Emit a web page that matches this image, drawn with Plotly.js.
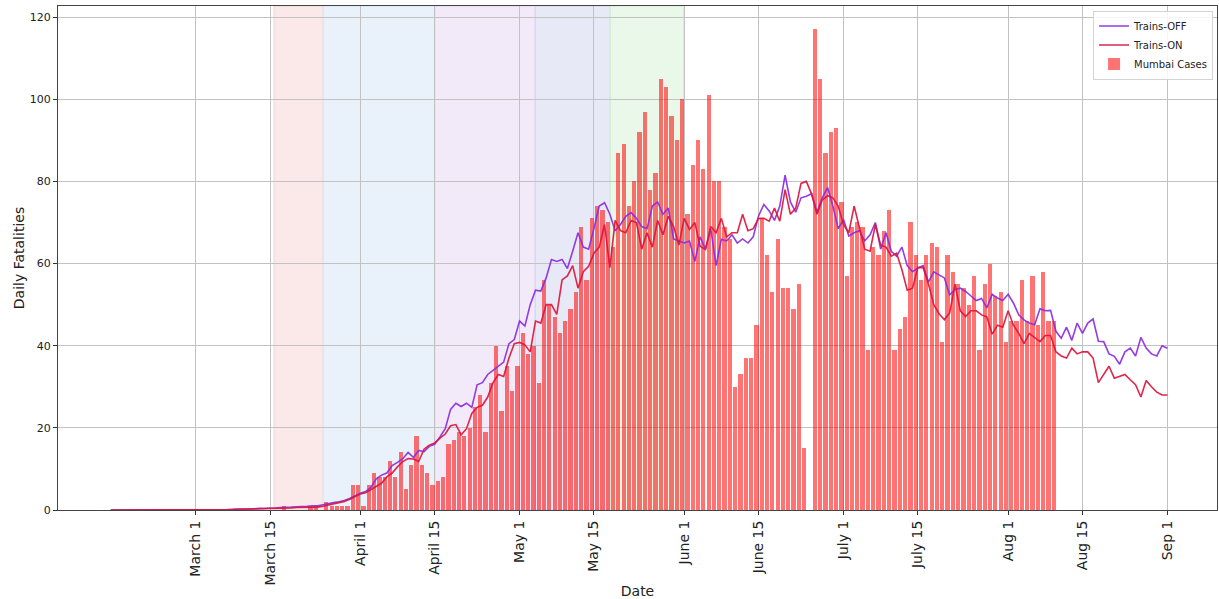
<!DOCTYPE html>
<html>
<head>
<meta charset="utf-8">
<script src="https://cdn.plot.ly/plotly-3.0.1.min.js"></script>
<style>
  html, body { margin: 0; padding: 0; background: #ffffff; }
  #chart { width: 1219px; height: 599px; }
</style>
</head>
<body>
<div id="chart"></div>
<script>
// ---- DATA (days counted from March 1) ----
const FIRST_LINE_DAY = -16;   // Feb 14
const trainsOff = [
  0,0,0,0,0,0,0,0,0,0,
  0,0,0,0,0,0,0,0,0,0.1,
  0.1,0.1,0.1,0.2,0.2,0.2,0.3,0.3,0.4,0.4,
  0.5,0.5,0.6,0.6,0.7,0.8,0.8,0.9,1.0,1.0,
  1.3,1.6,1.8,2.0,2.3,2.8,3.4,4.1,4.5,5.5,
  7.6,8.5,9.0,10.8,11.6,12.5,14.0,12.8,14.5,14.2,
  15.5,16.0,17.8,19.8,24.5,26.0,25.2,26.0,25.0,30.5,
  31.0,33.0,34.0,35.0,36.0,40.5,41.5,46.0,44.8,50.0,
  53.5,53.3,56.5,61.0,60.5,61.0,58.8,63.0,67.5,64.0,
  63.5,68.5,74.0,74.8,72.0,68.0,69.5,71.5,72.4,71.0,
  69.0,68.5,74.0,75.0,72.0,73.5,66.0,65.5,65.0,65.5,
  60.5,66.5,63.5,68.5,59.5,65.9,65.5,67.0,65.0,66.0,
  65.0,66.5,71.6,74.4,72.8,70.5,74.0,81.5,75.0,72.5,
  76.0,76.4,77.0,72.5,76.0,78.5,74.0,68.5,70.7,66.7,
  67.5,68.0,65.5,67.0,70.0,63.5,67.5,63.0,61.8,64.0,
  59.5,58.0,58.9,59.5,55.5,58.0,57.3,56.5,52.4,53.7,
  54.0,53.2,52.1,51.0,51.5,49.2,52.5,51.6,51.0,52.5,
  50.4,47.5,46.3,45.5,45.1,49.0,48.5,48.6,43.5,41.8,
  44.5,41.3,45.5,43.0,45.5,46.5,41.1,41.0,38.0,37.4,
  35.5,38.5,39.4,37.5,42.0,39.4,38.0,37.5,40.0,39.4
];
const trainsOn = [
  0,0,0,0,0,0,0,0,0,0,
  0,0,0,0,0,0,0,0,0,0.1,
  0.1,0.1,0.1,0.1,0.2,0.2,0.2,0.3,0.3,0.3,
  0.4,0.4,0.5,0.5,0.5,0.6,0.6,0.7,0.7,0.7,
  0.9,1.2,1.6,1.9,2.1,2.6,3.2,3.9,4.2,5.0,
  5.8,6.5,8.1,9.0,10.5,11.8,12.5,12.4,11.8,14.8,
  15.8,16.3,17.5,18.5,20.5,20.8,18.3,19.8,23.5,25.0,
  25.5,27.5,31.0,33.0,32.5,37.0,40.5,40.8,40.2,38.5,
  46.0,45.5,50.0,50.0,47.6,56.0,57.0,59.5,54.0,58.0,
  59.3,62.5,64.0,69.5,59.0,70.5,68.0,67.5,70.5,70.0,
  63.5,67.5,64.0,70.5,67.0,71.5,69.0,64.5,71.0,68.3,
  70.0,64.2,63.4,69.0,67.5,71.0,66.5,67.5,67.5,72.0,
  68.0,68.5,71.0,71.0,70.3,73.5,70.3,78.0,72.0,73.5,
  79.5,80.0,76.9,72.0,75.5,76.5,76.0,74.0,69.5,67.5,
  74.0,69.0,63.5,63.0,69.5,64.5,64.0,61.8,62.5,58.5,
  53.5,54.0,59.0,59.0,55.0,50.0,47.8,46.3,48.0,55.0,
  48.5,47.1,48.5,48.5,47.5,47.0,42.8,45.0,44.5,48.5,
  45.0,43.0,40.5,43.0,42.0,41.0,42.5,42.5,38.5,37.5,
  37.0,39.4,38.0,38.5,38.5,37.0,31.0,33.0,35.0,32.1,
  32.5,33.0,31.7,30.5,27.5,31.5,30.0,28.7,28.0,28.0
];
const FIRST_CASE_DAY = 16;    // March 17
const mumbaiCases = [
  1,0,0,0,0,1,1,0,2,1,
  1,1,1,6,6,1,6,9,8,8,
  12,8,14,5,11,18,11,9,6,7,
  8,16,17,19,18,20,25,28,19,31,
  40,24,35,29,35,43,38,40,31,56,
  50,47,43,46,49,53,69,56,71,74,
  73,70,64,87,89,74,80,92,97,78,
  82,105,103,96,90,100,72,84,90,83,
  101,80,80,69,66,30,33,37,37,45,
  71,62,53,66,54,54,49,55,15,0,
  117,105,87,92,93,75,57,69,70,69,
  39,64,62,68,73,39,44,47,70,62,
  56,62,65,64,41,62,58,55,54,50,
  57,39,55,60,52,53,41,46,46,56,
  46,57,45,58,46,46
];
const tickDays   = [0, 14, 31, 45, 61, 75, 92, 106, 122, 136, 153, 167, 183];
const tickLabels = ["March 1","March 15","April 1","April 15","May 1","May 15",
                    "June 1","June 15","July 1","July 15","Aug 1","Aug 15","Sep 1"];
const yTicks = [0, 20, 40, 60, 80, 100, 120];
// lockdown phases (day ranges)
const phaseStart = [14.75, 24.0, 45.05, 63.95, 78.08];
const phaseEnd   = [24.0, 45.05, 63.95, 78.08, 91.9];

// ---- STYLE ----
const phaseFill = ['#fbe8e8', '#e9f1fa', '#f2eaf9', '#e8e9f7', '#eaf8ea'];
const phaseEdge = ['#f3d6d6', '#d9e5f3', '#e2d2f1', '#d3d2f0', '#cfeed0'];

const lineDays = trainsOff.map((_, i) => FIRST_LINE_DAY + i);
const caseDays = mumbaiCases.map((_, i) => FIRST_CASE_DAY + i);

const traces = [
  {
    type: 'bar', name: 'Mumbai Cases', x: caseDays, y: mumbaiCases,
    width: 0.8, offset: 0.2,
    marker: { color: 'rgba(255,0,0,0.55)', line: { width: 0 } },
    legendrank: 3
  },
  {
    type: 'scatter', mode: 'lines', name: 'Trains-OFF', x: lineDays, y: trainsOff,
    line: { color: '#8A2BE2', width: 1.6 }, opacity: 0.92, legendrank: 1
  },
  {
    type: 'scatter', mode: 'lines', name: 'Trains-ON', x: lineDays, y: trainsOn,
    line: { color: '#DC143C', width: 1.6 }, opacity: 0.92, legendrank: 2
  }
];

const shapes = phaseStart.map((s, i) => ({
  type: 'rect', xref: 'x', yref: 'paper', x0: s, x1: phaseEnd[i], y0: 0, y1: 1,
  fillcolor: phaseFill[i], line: { color: phaseEdge[i], width: 1 }, layer: 'below'
}));

const layout = {
  width: 1219, height: 599,
  margin: { l: 58, r: 2, t: 6, b: 89, pad: 0 },
  paper_bgcolor: '#ffffff', plot_bgcolor: '#ffffff',
  font: { family: 'DejaVu Sans, sans-serif', color: '#222' },
  showlegend: true,
  bargap: 0,
  legend: {
    x: 0.9966, y: 0.991, xanchor: 'right', yanchor: 'top',
    bgcolor: 'rgba(255,255,255,0.85)', bordercolor: '#d4d4d4', borderwidth: 1,
    font: { size: 10, color: '#222' }, tracegroupgap: 0
  },
  xaxis: {
    range: [-25.93, 192.34], autorange: false,
    tickmode: 'array', tickvals: tickDays, ticktext: tickLabels,
    tickangle: -90, ticks: 'outside', ticklen: 4, tickwidth: 1, tickcolor: '#333',
    tickfont: { size: 14, color: '#222' },
    showgrid: true, gridcolor: '#c2c2c2', gridwidth: 1,
    showline: true, linecolor: '#444', linewidth: 1, mirror: true, zeroline: false,
    title: { text: 'Date', font: { size: 14, color: '#222' }, standoff: 2 },
    automargin: false
  },
  yaxis: {
    range: [0, 122.7], autorange: false,
    tickmode: 'array', tickvals: yTicks,
    ticks: 'outside', ticklen: 4, tickwidth: 1, tickcolor: '#333',
    tickfont: { size: 11, color: '#222' },
    showgrid: true, gridcolor: '#c2c2c2', gridwidth: 1,
    showline: true, linecolor: '#444', linewidth: 1, mirror: true, zeroline: false,
    title: { text: 'Daily Fatalities', font: { size: 14, color: '#222' }, standoff: 1 },
    automargin: false
  },
  shapes: shapes
};

Plotly.newPlot('chart', traces, layout, { staticPlot: true, displayModeBar: false });
</script>
</body>
</html>
